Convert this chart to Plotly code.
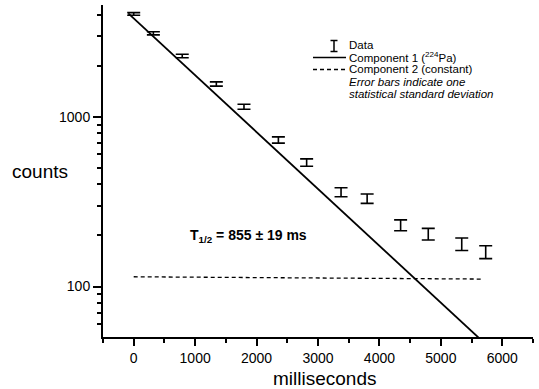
import plotly.graph_objects as go

# ---- data ----
time_ms = [0, 320, 790, 1345, 1795, 2355, 2815, 3375, 3800, 4345, 4795, 5340, 5730]
counts = [4030, 3100, 2280, 1560, 1145, 730, 538, 360, 330, 230, 204, 178, 160]
count_err = [73, 64, 55, 45, 39, 31, 27, 22, 21, 17, 16, 15, 14]

comp1_t = [-88, 5746]
comp1_counts = [4064, 45.2]

comp2_t = [0, 5690]
comp2_counts = [114.2, 110.7]

x_tickvals = [0, 1000, 2000, 3000, 4000, 5000, 6000]
x_ticktext = ["0", "1000", "2000", "3000", "4000", "5000", "6000"]
x_minorvals = [-500, 500, 1500, 2500, 3500, 4500, 5500, 6500]
y_tickvals = [100, 1000]
y_ticktext = ["100", "1000"]
y_minorvals = [60, 70, 80, 90, 200, 300, 400, 500, 600, 700, 800, 900, 2000, 3000, 4000]

# ---- layout geometry ----
W, H = 539, 389
ML, MR, MT, MB = 103, 6, 5, 52
PW, PH = W - ML - MR, H - MT - MB


def fx(px):
    return (px - ML) / PW


def fy(py):
    return (H - MB - py) / PH


FONT = "Liberation Sans, Arial, Helvetica, sans-serif"

fig = go.Figure()

fig.add_trace(go.Scatter(
    x=comp1_t, y=comp1_counts, mode="lines",
    line=dict(color="black", width=1.8), showlegend=False, hoverinfo="skip"))

fig.add_trace(go.Scatter(
    x=comp2_t, y=comp2_counts, mode="lines",
    line=dict(color="black", width=1.3, dash="4px,3px"), showlegend=False,
    hoverinfo="skip"))

fig.add_trace(go.Scatter(
    x=time_ms, y=counts, mode="markers",
    marker=dict(size=2, color="rgba(0,0,0,0)"),
    error_y=dict(type="data", array=count_err, visible=True,
                 color="black", thickness=1.6, width=6.5),
    showlegend=False))

# ---- legend built by hand ----
shapes = [
    # I-beam symbol
    dict(type="line", xref="paper", yref="paper", x0=fx(334), x1=fx(334),
         y0=fy(40.5), y1=fy(51.5), line=dict(color="black", width=1.5)),
    dict(type="line", xref="paper", yref="paper", x0=fx(330.5), x1=fx(337.5),
         y0=fy(40.5), y1=fy(40.5), line=dict(color="black", width=1.5)),
    dict(type="line", xref="paper", yref="paper", x0=fx(330.5), x1=fx(337.5),
         y0=fy(51.5), y1=fy(51.5), line=dict(color="black", width=1.5)),
    # component 1 sample
    dict(type="line", xref="paper", yref="paper", x0=fx(313), x1=fx(346),
         y0=fy(57.5), y1=fy(57.5), line=dict(color="black", width=1.5)),
    # component 2 sample
    dict(type="line", xref="paper", yref="paper", x0=fx(313), x1=fx(346),
         y0=fy(69.5), y1=fy(69.5), line=dict(color="black", width=1.3, dash="4px,3px")),
]

legend_lines = [
    ("Data", 45, False),
    ("Component 1 (<sup>224</sup>Pa)", 57.5, False),
    ("Component 2 (constant)", 69.5, False),
    ("Error bars indicate one", 82, True),
    ("statistical standard deviation", 94, True),
]

annotations = []
for txt, yc, ital in legend_lines:
    annotations.append(dict(
        text=("<i>%s</i>" % txt) if ital else txt,
        xref="paper", yref="paper", x=fx(347), y=fy(yc),
        xanchor="left", yanchor="middle", showarrow=False,
        font=dict(family=FONT, size=11.5, color="black")))

annotations.append(dict(
    text="<b>T<sub>1/2</sub> = 855 ± 19 ms</b>",
    xref="paper", yref="paper", x=fx(188), y=fy(236),
    xanchor="left", yanchor="middle", showarrow=False,
    font=dict(family=FONT, size=14, color="black")))

annotations.append(dict(
    text="counts", xref="paper", yref="paper", x=fx(40), y=fy(171),
    xanchor="center", yanchor="middle", showarrow=False,
    font=dict(family=FONT, size=19, color="black")))

annotations.append(dict(
    text="milliseconds", xref="paper", yref="paper", x=fx(324), y=fy(378),
    xanchor="center", yanchor="middle", showarrow=False,
    font=dict(family=FONT, size=19, color="black")))

fig.update_layout(
    width=W, height=H,
    margin=dict(l=ML, r=MR, t=MT, b=MB, pad=0),
    paper_bgcolor="white", plot_bgcolor="white",
    font=dict(family=FONT, size=13, color="black"),
    shapes=shapes, annotations=annotations, showlegend=False,
)

fig.update_xaxes(
    range=[-500, 6500], showgrid=False, zeroline=False,
    showline=True, linecolor="black", linewidth=2,
    ticks="outside", ticklen=7, tickwidth=1.5, tickcolor="black",
    tickmode="array", tickvals=x_tickvals, ticktext=x_ticktext,
    tickfont=dict(family=FONT, size=14, color="black"),
    minor=dict(tickmode="array", tickvals=x_minorvals, ticks="outside",
               ticklen=4, tickwidth=1.5, tickcolor="black", showgrid=False),
)

fig.update_yaxes(
    type="log", range=[1.703, 3.658], showgrid=False, zeroline=False,
    showline=True, linecolor="black", linewidth=2,
    ticks="outside", ticklen=8, tickwidth=1.5, tickcolor="black",
    tickmode="array", tickvals=y_tickvals, ticktext=y_ticktext,
    tickfont=dict(family=FONT, size=14, color="black"),
    minor=dict(tickmode="array", tickvals=y_minorvals, ticks="outside",
               ticklen=4, tickwidth=1.5, tickcolor="black", showgrid=False),
)

fig.write_html(
    "out.html",
    config={"displayModeBar": False},
    post_script="document.body.style.margin='0';document.body.style.overflow='hidden';",
)
